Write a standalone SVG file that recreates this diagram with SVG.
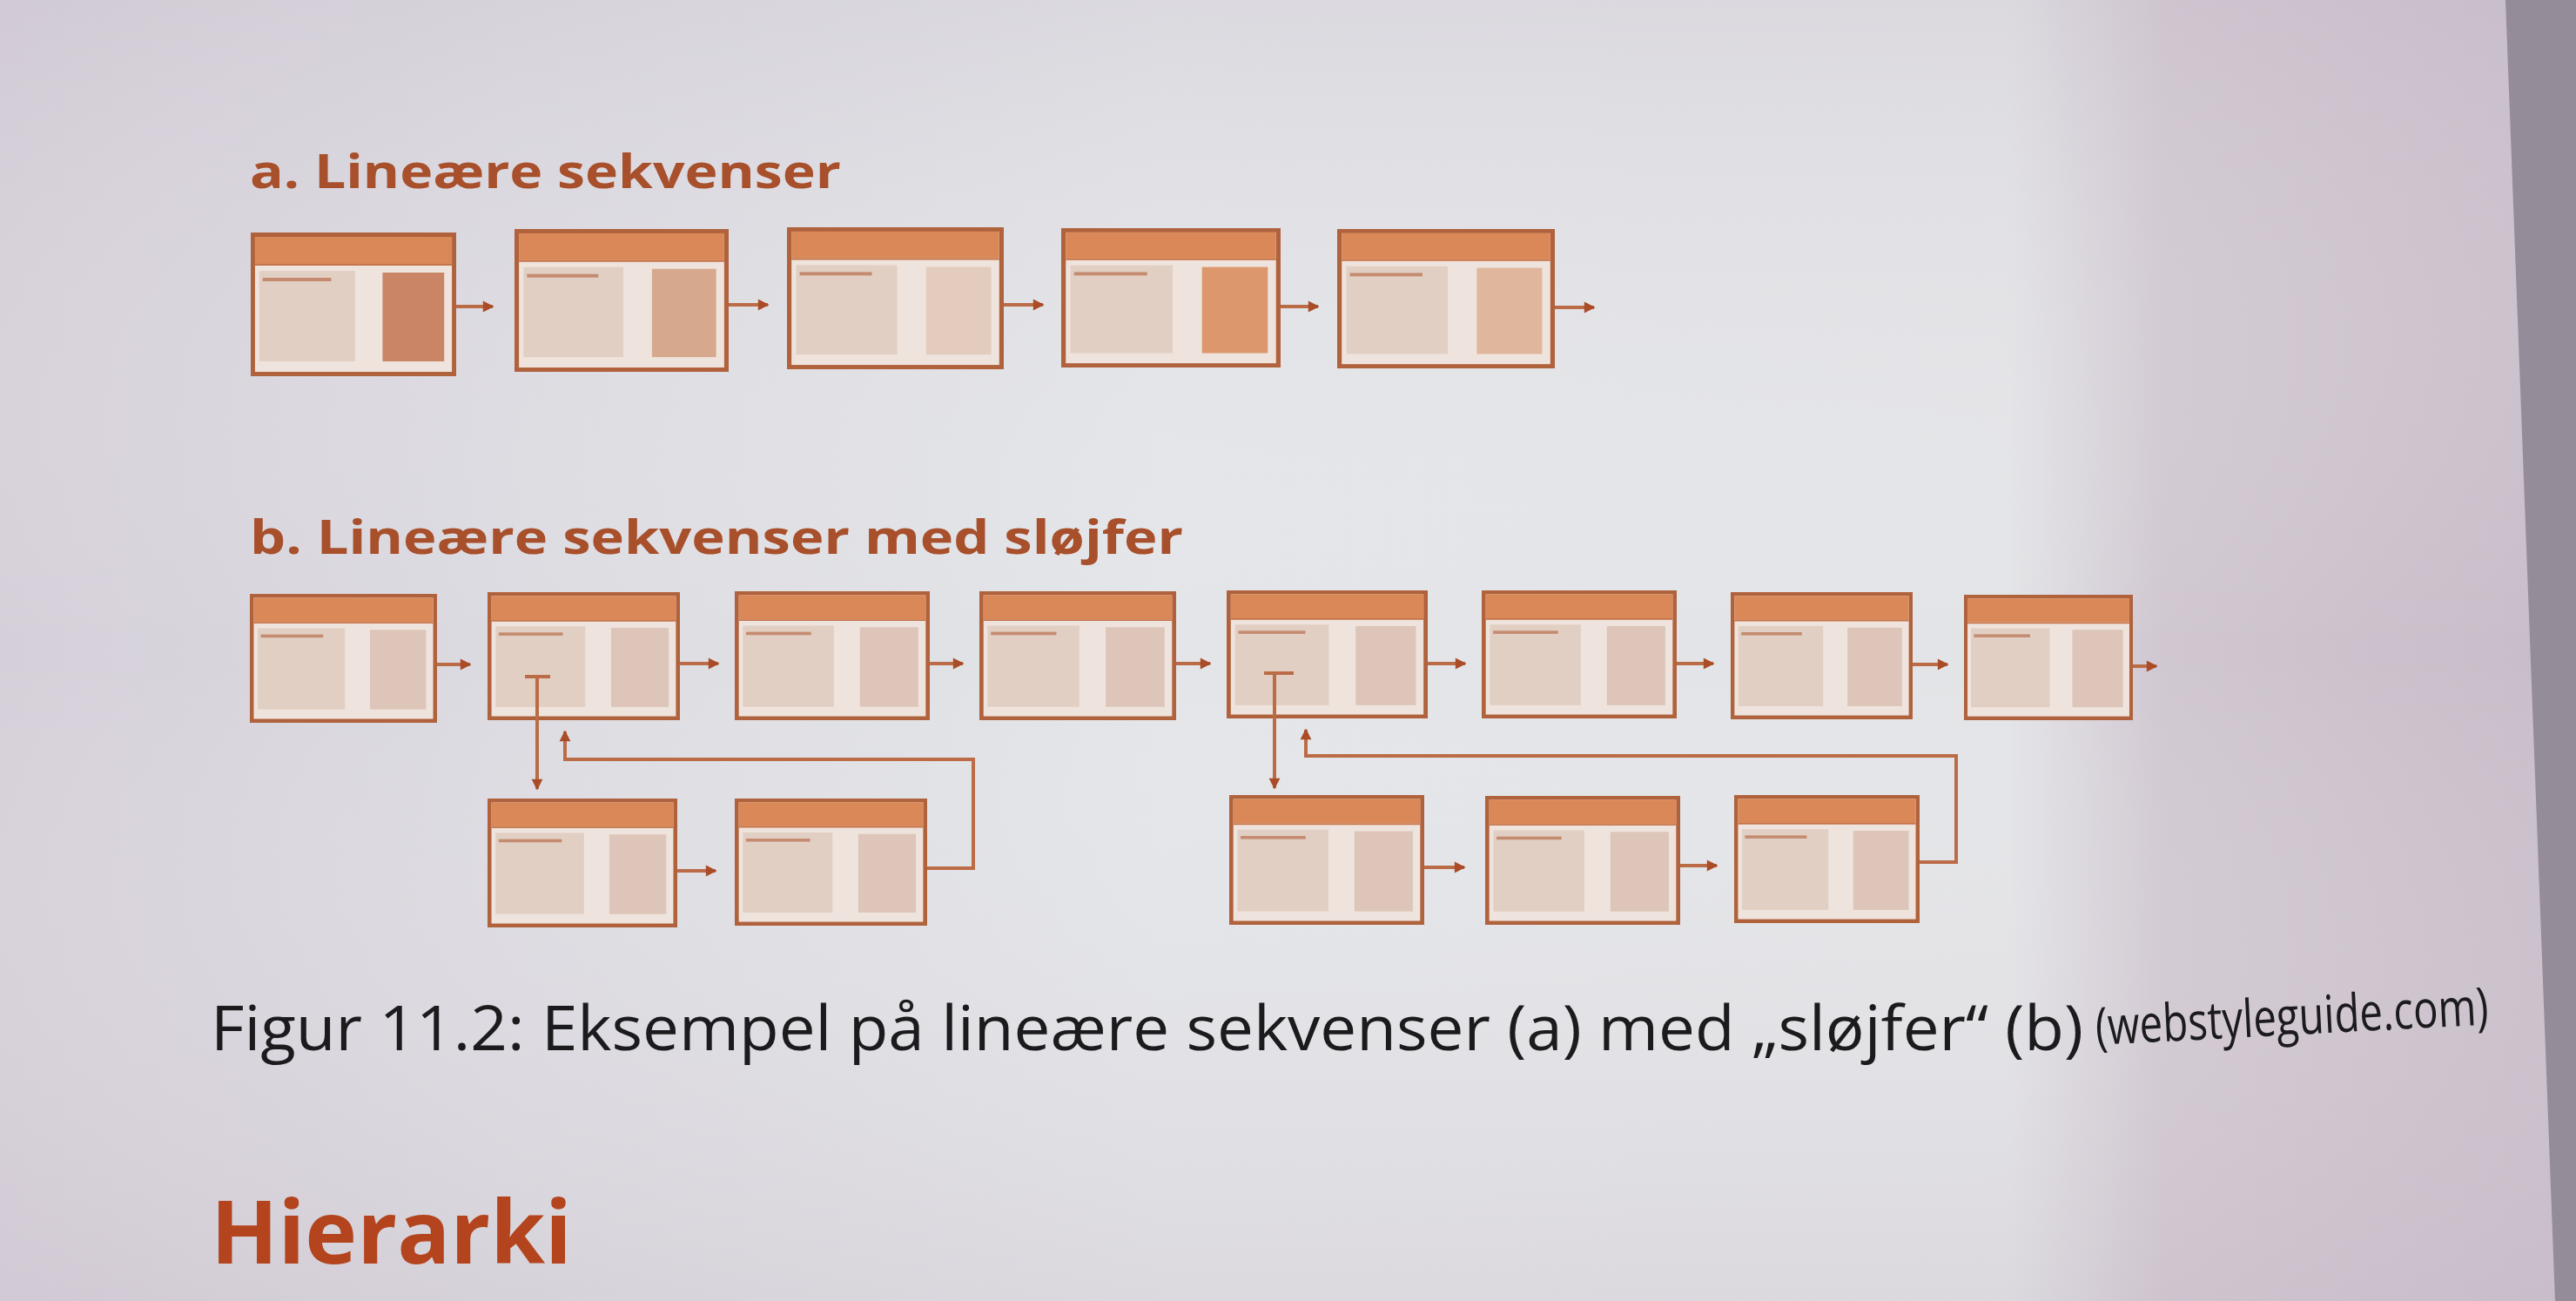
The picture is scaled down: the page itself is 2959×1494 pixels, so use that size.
<svg xmlns="http://www.w3.org/2000/svg" xmlns:xlink="http://www.w3.org/1999/xlink" width="2959" height="1494" viewBox="0 0 2959 1494">
<defs>
<linearGradient id="bg" x1="0" y1="0" x2="1" y2="0">
<stop offset="0" stop-color="#d5cfd9"/>
<stop offset="0.2" stop-color="#dcdbe1"/>
<stop offset="0.45" stop-color="#e3e5e8"/>
<stop offset="0.78" stop-color="#e3e4e7"/>
<stop offset="0.84" stop-color="#d0c7d1"/>
<stop offset="1" stop-color="#c7bcc8"/>
</linearGradient>
<linearGradient id="bgv" x1="0" y1="0" x2="0" y2="1">
<stop offset="0" stop-color="#c9bfcc" stop-opacity="0.3"/>
<stop offset="0.5" stop-color="#ffffff" stop-opacity="0"/>
<stop offset="1" stop-color="#c9bdc9" stop-opacity="0.3"/>
</linearGradient>
<symbol id="box" viewBox="0 0 240 165" preserveAspectRatio="none">
<rect x="2.5" y="2.5" width="235" height="160" fill="#efe4dd" stroke="#b0623d" stroke-width="5"/>
<rect x="5" y="5" width="230" height="31" fill="#da8857"/>
<line x1="5" y1="37" x2="235" y2="37" stroke="#c5744b" stroke-width="2"/>
<rect x="10" y="44" width="112" height="104" fill="#e2cfc3"/>
<rect x="14" y="52" width="80" height="4" fill="#c48b70"/>
<rect x="154" y="46" width="72" height="102" fill="currentColor"/>
</symbol>
<marker id="ah" viewBox="0 0 10 10" refX="8" refY="5" markerUnits="userSpaceOnUse" markerWidth="16" markerHeight="16" orient="auto">
<path d="M1,1 L9,5 L1,9 Z" fill="#a94c27"/>
</marker>
<style>
.t{font-family:"Open Sans","Noto Sans","Liberation Sans",sans-serif;font-weight:bold;fill:#a84f2b}
.cap{font-family:"Open Sans","Noto Sans","Liberation Sans",sans-serif;fill:#1b1a1d}
.c{fill:none;stroke:#bb6c46;stroke-width:4;marker-end:url(#ah)}
.tick{stroke:#bb6c46;stroke-width:4}
</style>
</defs>
<rect width="2959" height="1494" fill="url(#bg)"/>
<rect width="2959" height="1494" fill="url(#bgv)"/>
<polygon points="2878,0 2959,0 2959,1494 2935,1494" fill="#958c99"/>

<text class="t" x="287" y="216" font-size="54" textLength="679" lengthAdjust="spacingAndGlyphs">a. Lineære sekvenser</text>
<text class="t" x="287" y="636" font-size="54" textLength="1072" lengthAdjust="spacingAndGlyphs">b. Lineære sekvenser med sløjfer</text>

<g id="a1" color="#c98566"><use xlink:href="#box" x="288" y="267" width="236" height="165"/></g>
<g id="a2" color="#d6a98e"><use xlink:href="#box" x="591" y="263" width="246" height="164"/></g>
<g id="a3" color="#e3cbbd"><use xlink:href="#box" x="904" y="261" width="249" height="163"/></g>
<g id="a4" color="#dc976d"><use xlink:href="#box" x="1219" y="262" width="252" height="160"/></g>
<g id="a5" color="#e0b69d"><use xlink:href="#box" x="1536" y="263" width="250" height="160"/></g>

<g id="b1" color="#ddc6b9"><use xlink:href="#box" x="287" y="682" width="215" height="148"/></g>
<g id="b2" color="#ddc6b9"><use xlink:href="#box" x="560" y="680" width="221" height="147"/></g>
<g id="b3" color="#ddc6b9"><use xlink:href="#box" x="844" y="679" width="224" height="148"/></g>
<g id="b4" color="#ddc6b9"><use xlink:href="#box" x="1125" y="679" width="226" height="148"/></g>
<g id="b5" color="#ddc6b9"><use xlink:href="#box" x="1409" y="678" width="231" height="147"/></g>
<g id="b6" color="#ddc6b9"><use xlink:href="#box" x="1702" y="678" width="224" height="147"/></g>
<g id="b7" color="#ddc6b9"><use xlink:href="#box" x="1988" y="680" width="209" height="146"/></g>
<g id="b8" color="#ddc6b9"><use xlink:href="#box" x="2256" y="683" width="194" height="144"/></g>

<g id="b2a" color="#ddc6b9"><use xlink:href="#box" x="560" y="917" width="218" height="148"/></g>
<g id="b2b" color="#ddc6b9"><use xlink:href="#box" x="844" y="917" width="221" height="146"/></g>
<g id="b5a" color="#ddc6b9"><use xlink:href="#box" x="1412" y="913" width="224" height="149"/></g>
<g id="b5b" color="#ddc6b9"><use xlink:href="#box" x="1706" y="914" width="224" height="148"/></g>
<g id="b5c" color="#ddc6b9"><use xlink:href="#box" x="1992" y="913" width="213" height="147"/></g>

<g id="connectors">
<path class="c" d="M524,352 H566"/>
<path class="c" d="M837,350 H882"/>
<path class="c" d="M1153,350 H1198"/>
<path class="c" d="M1471,352 H1514"/>
<path class="c" d="M1786,353 H1831"/>

<path class="c" d="M502,763 H540"/>
<path class="c" d="M781,762 H825"/>
<path class="c" d="M1068,762 H1106"/>
<path class="c" d="M1351,762 H1390"/>
<path class="c" d="M1640,762 H1683"/>
<path class="c" d="M1926,762 H1968"/>
<path class="c" d="M2197,763 H2237"/>
<path class="c" d="M2450,765 H2477"/>

<path class="c" d="M778,1000 H822"/>
<path class="c" d="M1636,996 H1682"/>
<path class="c" d="M1930,994 H1972"/>

<line class="tick" x1="603" y1="777" x2="632" y2="777"/>
<path class="c" d="M617,777 V906"/>
<path class="c" d="M1065,997 H1118 V872 H649 V840"/>
<line class="tick" x1="1452" y1="773" x2="1486" y2="773"/>
<path class="c" d="M1464,773 V905"/>
<path class="c" d="M2205,990 H2247 V868 H1500 V838"/>
</g>

<text class="cap" x="242" y="1206" font-size="72" textLength="2151" lengthAdjust="spacingAndGlyphs">Figur 11.2: Eksempel på lineære sekvenser (a) med „sløjfer“ (b)</text>
<text class="cap" font-size="60" transform="translate(2408,1200) rotate(-3) scale(0.79,1)">(webstyleguide.com)</text>

<text class="t" x="242" y="1451" font-size="100" style="fill:#b3441d" textLength="415" lengthAdjust="spacingAndGlyphs">Hierarki</text>
</svg>
